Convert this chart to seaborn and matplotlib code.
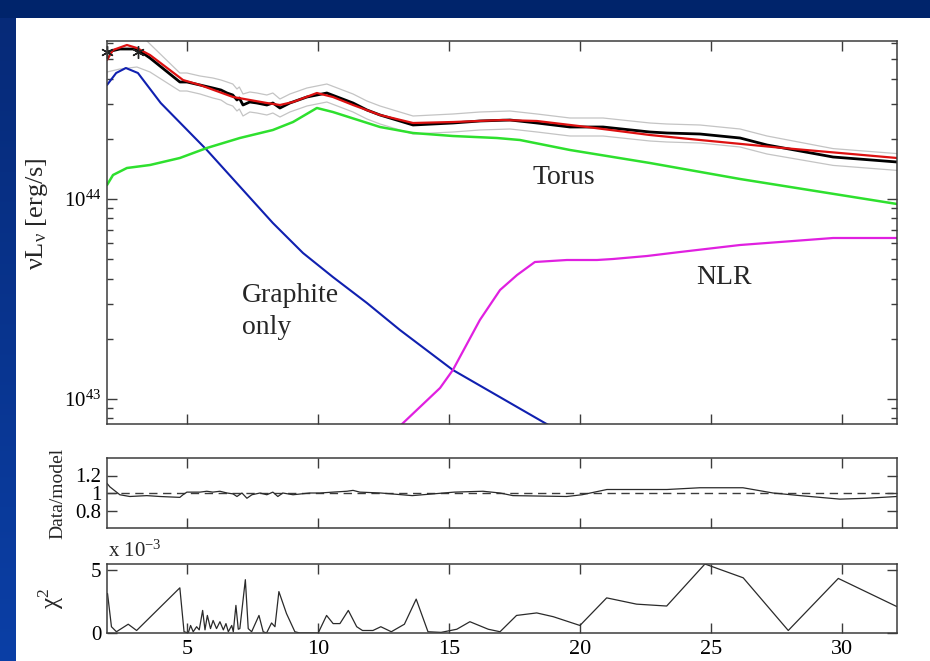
import numpy as np
import matplotlib
matplotlib.use("Agg")
import matplotlib.pyplot as plt
import seaborn as sns
from matplotlib.ticker import LogLocator, LogFormatterMathtext, NullFormatter, FixedLocator
from matplotlib.patches import Rectangle

# ---------------------------------------------------------------- data
# wavelength in micron, luminosities as log10(nu L_nu / erg s^-1)
wl_data = [1.95, 2.44, 3.09, 3.59, 4.73, 5.00, 5.50, 5.99, 6.30, 6.53, 6.75, 6.91, 7.00,
           7.14, 7.40, 7.67, 8.05, 8.28, 8.55, 8.93, 9.58, 10.34, 10.84, 11.34, 11.87,
           12.37, 13.63, 15.15, 16.18, 17.33, 18.36, 19.62, 20.88, 22.67, 23.32, 24.58,
           26.11, 27.14, 29.66, 32.10]
log_data = [44.735, 44.75, 44.75, 44.705, 44.585, 44.585, 44.57, 44.555, 44.545, 44.53,
            44.52, 44.495, 44.505, 44.47, 44.485, 44.48, 44.47, 44.48, 44.455, 44.48,
            44.51, 44.53, 44.505, 44.48, 44.445, 44.42, 44.37, 44.38, 44.39, 44.395,
            44.38, 44.36, 44.36, 44.335, 44.33, 44.325, 44.305, 44.27, 44.21, 44.185]
err_dex = [0.10, 0.10, 0.09, 0.07, 0.045, 0.045, 0.045, 0.05, 0.05, 0.055, 0.055, 0.055,
           0.055, 0.055, 0.05, 0.05, 0.05, 0.05, 0.045, 0.045, 0.045, 0.045, 0.045, 0.045,
           0.045, 0.045, 0.045, 0.045, 0.045, 0.045, 0.045, 0.045, 0.045, 0.045, 0.045,
           0.045, 0.045, 0.045, 0.042, 0.042]

phot_wl = [1.95, 3.13]
phot_log = [44.735, 44.735]

wl_model = [1.95, 2.18, 2.71, 3.09, 3.59, 4.85, 5.50, 6.76, 8.05, 8.55, 9.05, 9.96, 10.57,
            11.34, 12.37, 13.63, 15.15, 17.06, 18.36, 20.27, 22.67, 24.58, 27.75, 32.10]
log_model = [44.695, 44.745, 44.77, 44.755, 44.72, 44.595, 44.57, 44.51, 44.48, 44.47,
             44.485, 44.53, 44.51, 44.47, 44.42, 44.38, 44.385, 44.395, 44.39, 44.36,
             44.32, 44.295, 44.255, 44.205]

wl_graphite = [1.95, 2.30, 2.67, 3.13, 4.00, 5.76, 7.14, 8.28, 9.43, 10.57, 11.87, 13.13,
               15.15, 18.66, 19.50]
log_graphite = [44.57, 44.63, 44.655, 44.63, 44.48, 44.245, 44.045, 43.88, 43.73, 43.61,
                43.48, 43.345, 43.145, 42.88, 42.82]

wl_torus = [1.95, 2.18, 2.71, 3.59, 4.73, 5.76, 7.02, 8.28, 9.05, 9.96, 10.57, 12.37,
            13.63, 15.15, 16.83, 17.71, 19.62, 22.67, 26.11, 32.10]
log_torus = [44.07, 44.12, 44.155, 44.17, 44.205, 44.255, 44.305, 44.345, 44.385, 44.455,
             44.435, 44.36, 44.33, 44.315, 44.305, 44.295, 44.245, 44.18, 44.10, 43.975]

wl_nlr = [13.00, 13.21, 14.66, 15.15, 16.18, 16.95, 17.60, 18.28, 19.50, 20.65, 21.26,
          22.56, 23.82, 26.11, 29.66, 32.10]
log_nlr = [42.78, 42.875, 43.055, 43.145, 43.395, 43.545, 43.62, 43.685, 43.695, 43.695,
           43.70, 43.715, 43.735, 43.77, 43.805, 43.805]

wl_ratio = [1.95, 2.06, 2.44, 2.82, 3.47, 3.97, 4.73, 4.85, 5.00, 5.50, 5.76, 5.99, 6.26,
            6.53, 6.76, 6.91, 7.10, 7.29, 7.48, 7.79, 8.05, 8.28, 8.47, 8.66, 9.05, 9.69,
            10.08, 10.57, 11.11, 11.34, 11.60, 12.40, 13.60, 15.20, 16.30, 16.95, 17.44,
            19.50, 20.08, 21.03, 23.32, 24.58, 26.22, 27.37, 28.40, 29.92, 30.95, 32.10]
ratio = [1.11, 1.07, 0.98, 0.96, 0.97, 0.96, 0.95, 0.98, 1.01, 1.01, 1.02, 1.01, 1.02,
         1.00, 0.99, 0.96, 1.00, 0.94, 0.98, 1.00, 0.98, 1.01, 0.96, 1.00, 0.98, 1.00,
         1.00, 1.01, 1.02, 1.03, 1.01, 1.00, 0.97, 1.01, 1.02, 1.00, 0.97, 0.96, 0.98,
         1.04, 1.04, 1.06, 1.06, 1.00, 0.97, 0.93, 0.94, 0.96]

# chi-square per point, in units of 1e-3
wl_chi2 = [1.97, 2.12, 2.31, 2.76, 3.08, 4.73, 4.89, 5.05, 5.14, 5.24, 5.37, 5.47, 5.60,
           5.69, 5.78, 5.90, 6.00, 6.13, 6.26, 6.39, 6.49, 6.58, 6.71, 6.77, 6.87, 6.96,
           7.02, 7.23, 7.34, 7.47, 7.75, 7.91, 8.04, 8.23, 8.36, 8.51, 8.80, 9.12, 9.31,
           10.01, 10.33, 10.58, 10.84, 11.16, 11.48, 11.70, 12.10, 12.40, 12.80, 13.30,
           13.75, 14.20, 14.70, 15.30, 15.80, 16.50, 16.95, 17.58, 18.35, 18.98, 20.00,
           21.02, 22.16, 23.31, 24.77, 26.23, 27.95, 29.86, 32.10]
chi2_e3 = [3.15, 0.5, 0.1, 0.7, 0.2, 3.6, 0.1, 0.0, 0.6, 0.1, 0.5, 0.25, 1.8, 0.25, 1.4,
           0.35, 1.0, 0.35, 0.9, 0.25, 0.75, 0.1, 0.6, 0.1, 2.2, 0.3, 0.35, 4.25, 0.35,
           0.1, 1.4, 0.1, 0.0, 0.8, 0.5, 3.3, 1.55, 0.1, 0.0, 0.0, 1.4, 0.75, 0.75, 1.8,
           0.5, 0.2, 0.2, 0.5, 0.1, 0.7, 2.7, 0.1, 0.05, 0.3, 0.9, 0.3, 0.1, 1.4, 1.6, 1.3,
           0.6, 2.8, 2.3, 2.15, 5.5, 4.4, 0.2, 4.35, 2.1]

x_ticks = [5, 10, 15, 20, 25, 30]

# ---------------------------------------------------------------- style
sns.set_theme(style="ticks")
plt.rcParams["font.family"] = ["Liberation Serif", "DejaVu Serif"]
plt.rcParams["mathtext.fontset"] = "custom"
plt.rcParams["mathtext.rm"] = "Liberation Serif"
plt.rcParams["mathtext.it"] = "Liberation Serif:italic"
plt.rcParams["axes.edgecolor"] = "#3c3c3c"
plt.rcParams["axes.linewidth"] = 1.1
plt.rcParams["xtick.color"] = "#3c3c3c"
plt.rcParams["ytick.color"] = "#3c3c3c"
plt.rcParams["xtick.labelcolor"] = "black"
plt.rcParams["ytick.labelcolor"] = "black"

W, H = 930, 661
fig = plt.figure(figsize=(W / 100, H / 100), dpi=100, facecolor="white")

# slide frame: dark band on top, blue band on the left
frame = fig.add_axes([0, 0, 1, 1], zorder=-10)
frame.set_xlim(0, W)
frame.set_ylim(H, 0)
frame.axis("off")
grad = np.linspace(0, 1, 256).reshape(-1, 1)
frame.imshow(grad, extent=[0, 15, H, 18], cmap=matplotlib.colors.LinearSegmentedColormap.from_list(
    "band", ["#062a78", "#0b3fa6"]), aspect="auto")
frame.add_patch(Rectangle((0, 0), W, 18, color="#00246b", lw=0))


def fx(px):
    return px / W


def fy(py):
    return 1 - py / H


xlim = (1.95, 32.1)

ax = fig.add_axes([fx(107), fy(424), fx(897) - fx(107), fy(41) - fy(424)])
ax_r = fig.add_axes([fx(107), fy(528), fx(897) - fx(107), fy(458) - fy(528)])
ax_c = fig.add_axes([fx(107), fy(633), fx(897) - fx(107), fy(564) - fy(633)])

for a in (ax, ax_r, ax_c):
    a.set_facecolor("white")
    a.set_xlim(*xlim)
    a.xaxis.set_major_locator(FixedLocator(x_ticks))
    a.tick_params(which="both", direction="in", top=True, right=True,
                  color="#3c3c3c", width=1.0)
    a.tick_params(which="major", length=7)
    a.tick_params(which="minor", length=4)

# ---------------------------------------------------------------- main panel
data = 10 ** np.array(log_data)
err = np.array(err_dex)
ax.set_yscale("log")
sns.lineplot(x=wl_data, y=data * 10 ** err, ax=ax, color="#c4c4c4", lw=0.9,
             sort=False, estimator=None)
sns.lineplot(x=wl_data, y=data / 10 ** err, ax=ax, color="#c4c4c4", lw=0.9,
             sort=False, estimator=None)
sns.lineplot(x=wl_graphite, y=10 ** np.array(log_graphite), ax=ax, color="#1020b0",
             lw=1.5, sort=False, estimator=None)
sns.lineplot(x=wl_torus, y=10 ** np.array(log_torus), ax=ax, color="#2ee02e",
             lw=1.8, sort=False, estimator=None)
sns.lineplot(x=wl_nlr, y=10 ** np.array(log_nlr), ax=ax, color="#e020e0",
             lw=1.6, sort=False, estimator=None)
sns.lineplot(x=wl_data, y=data, ax=ax, color="black", lw=2.0,
             sort=False, estimator=None)
sns.lineplot(x=wl_model, y=10 ** np.array(log_model), ax=ax, color="#dd1111",
             lw=1.6, sort=False, estimator=None)
ax.plot(phot_wl, 10 ** np.array(phot_log), ls="none", marker=(6, 2, 0), ms=9,
        mec="#222222", mew=1.0, clip_on=False)

ax.set_ylim(10 ** 42.875, 10 ** 44.79)
ax.yaxis.set_major_locator(LogLocator(base=10))
ax.yaxis.set_minor_locator(LogLocator(base=10, subs=np.arange(2, 10)))
ax.yaxis.set_major_formatter(LogFormatterMathtext())
ax.yaxis.set_minor_formatter(NullFormatter())
ax.tick_params(axis="y", labelsize=15, pad=4)
ax.tick_params(axis="x", labelbottom=False)
ax.set_ylabel("νL$_{\\mathregular{ν}}$ [erg/s]", fontsize=19, labelpad=8)

ax.text(19.4, 10 ** 44.105, "Torus", fontsize=20, ha="center", va="center")
ax.text(25.5, 10 ** 43.605, "NLR", fontsize=20, ha="center", va="center")
ax.text(7.1, 10 ** 43.58, "Graphite\nonly", fontsize=20, ha="left", va="top",
        linespacing=1.35)

# ---------------------------------------------------------------- data/model panel
ax_r.axhline(1.0, color="#3c3c3c", lw=1.0, ls=(0, (6, 4)))
sns.lineplot(x=wl_ratio, y=ratio, ax=ax_r, color="#2a2a2a", lw=0.9,
             sort=False, estimator=None)
ax_r.set_ylim(0.6, 1.4)
ax_r.set_yticks([0.8, 1.0, 1.2])
ax_r.set_yticklabels(["0.8", "1", "1.2"])
ax_r.tick_params(axis="y", labelsize=15, pad=4)
ax_r.tick_params(axis="x", labelbottom=False)
ax_r.set_ylabel("Data/model", fontsize=14, labelpad=4)

# ---------------------------------------------------------------- chi-square panel
sns.lineplot(x=wl_chi2, y=chi2_e3, ax=ax_c, color="#2a2a2a", lw=0.9,
             sort=False, estimator=None)
ax_c.set_ylim(0, 5.5)
ax_c.set_yticks([0, 5])
ax_c.tick_params(axis="y", labelsize=15, pad=4)
ax_c.tick_params(axis="x", labelsize=16, pad=5)
ax_c.set_ylabel("χ$^2$", fontsize=18, labelpad=10)
fig.text(fx(108), fy(557), "x 10$^{-3}$", fontsize=15, ha="left", va="baseline")

ax.yaxis.set_label_coords(-0.072, 0.55)
ax_r.yaxis.set_label_coords(-0.052, 0.5)
ax_c.yaxis.set_label_coords(-0.052, 0.5)

fig.savefig("out.png", dpi=100, facecolor=fig.get_facecolor())
